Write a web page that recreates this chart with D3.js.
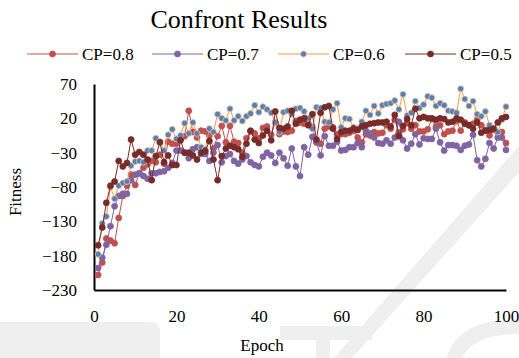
<!DOCTYPE html>
<html>
<head>
<meta charset="utf-8">
<script src="https://cdn.jsdelivr.net/npm/d3@7"></script>
<style>
  body { margin: 0; background: #fff; }
  svg { display: block; }
  text { font-family: "Liberation Serif", "Times New Roman", serif; fill: #000; }
</style>
</head>
<body>
<svg id="chart" width="519" height="358"></svg>
<script>
// values, epoch 1..100
const epochs = d3.range(1, 101)

const cp08 = [-208, -190, -155, -158, -162, -125, -93, -78, -62, -77,
  -60, -52, -47, -42, -44, -33, -46, -14, -17, -17,
  -10, -6, 31, 0, -8, 2, 1, -5, -24, -6,
  9, -15, 9, -14, -16, -30, -9, 1, -2, -9,
  6, 8, -4, 14, -3, 1, 0, 2, 16, 14,
  12, 13, 7, -15, -17, 5, 8, 7, -3, -3,
  -3, -1, 2, -8, -15, -3, -5, 0, -2, -1,
  10, 5, 18, -1, 4, 13, 5, 10, 1, 1,
  4, 19, 8, 10, -3, 1, 2, 16, 2, 14,
  10, 12, 18, 10, 3, -5, 3, -1, 0, -16]

const cp07 = [-198, -183, -164, -137, -108, -93, -90, -90, -70, -62,
  -60, -64, -68, -60, -60, -58, -57, -52, -45, -27,
  -27, -30, -38, -25, -22, -32, -32, -42, -30, -19,
  -44, -35, -32, -42, -46, -40, -35, -44, -48, -50,
  -36, -30, -34, -45, -30, -38, -49, -24, -50, -64,
  -22, -33, -7, -15, -34, -6, -20, -20, -14, -27,
  -26, -22, -22, -16, -22, 2, -2, -8, -16, -17,
  -12, -17, -8, 15, -12, -24, -17, -3, -18, -9,
  -10, -10, 5, -15, -27, -19, -19, -20, -26, -20,
  -18, -4, -41, -50, -39, -16, -24, -8, -8, -26]

const cp06 = [-178, -133, -123, -80, -97, -78, -74, -72, -49, -43,
  -42, -44, -27, -27, -9, -14, -27, -4, 4, -10,
  -5, 13, -2, 14, -2, -22, -25, 5, 0, 26,
  20, 17, 34, 17, 23, 16, 23, 27, 39, 29,
  37, 33, 28, 14, 0, 29, 31, 26, 34, 35,
  30, 20, 5, 36, 35, 15, 14, 33, 42, 7,
  20, 19, 7, 5, 15, 31, 25, 38, 27, 39,
  41, 42, 46, 33, 55, 24, 28, 45, 35, 40,
  52, 50, 38, 42, 39, 31, 30, 28, 63, 48,
  38, 45, 26, 23, 30, 10, 5, 0, 18, 37]

const cp05 = [-165, -139, -103, -78, -72, -42, -50, -45, -11, -33,
  -29, -33, -40, -70, -35, -15, -44, -34, -48, -48,
  -12, -30, -30, -34, -40, -30, -28, -13, -40, -70,
  -35, -24, -20, -22, -25, -36, -17, 2, -11, -16,
  -5, 2, -12, 30, 6, 5, 8, 31, 12, 18,
  20, 10, 26, -11, 28, 36, 38, 5, -10, 0,
  2, 2, 5, 3, 8, 10, 12, 13, 14, 14,
  15, 8, 25, -6, 9, 19, 10, 34, 20, 22,
  20, 20, 18, 20, 19, 14, 15, 20, 18, 12,
  10, 5, 14, -1, 2, 3, 5, 14, 20, 22]

const seriesNames = ['CP=0.8', 'CP=0.7', 'CP=0.6', 'CP=0.5']
const xTicks = [0, 20, 40, 60, 80, 100]
const yTicks = [70, 20, -30, -80, -130, -180, -230]

const series = [
  { name: seriesNames[0], values: cp08, line: '#c0504d', fill: '#c0504d', ring: '#c0504d' },
  { name: seriesNames[1], values: cp07, line: '#8064a2', fill: '#8064a2', ring: '#8064a2' },
  { name: seriesNames[2], values: cp06, line: '#f79646', fill: '#4f81bd', ring: '#f9bf8f' },
  { name: seriesNames[3], values: cp05, line: '#772c2a', fill: '#772c2a', ring: '#772c2a' }
]

const svg = d3.select('#chart')

// faint watermark shapes from the source page
const wm = svg.append('g').attr('fill', '#efefef').attr('stroke', 'none')
wm.append('path').attr('d', 'M519,146 L530,160 L352,358 L334,358 Z')
wm.append('path').attr('d', 'M0,322 L150,322 Q160,322 160,332 L160,358 L0,358 Z')
wm.append('path').attr('d', 'M280,326 L372,326 L372,340 L330,340 L330,358 L316,358 L316,340 L280,340 Z')
wm.append('path').attr('d', 'M519,320 Q470,318 452,345 L446,358 L462,358 Q474,334 519,334 Z')

const x = d3.scaleLinear().domain([0, 100]).range([94, 506])
const y = d3.scaleLinear().domain([-230, 70]).range([290, 84])

// axes
const xAxis = svg.append('g')
  .attr('transform', 'translate(0,290)')
  .call(d3.axisBottom(x).tickValues(xTicks).tickSize(0).tickPadding(20))
xAxis.select('.domain').attr('stroke', '#000').attr('stroke-width', 2)
xAxis.selectAll('text').attr('font-size', 17).attr('font-family', null)

const yAxis = svg.append('g')
  .attr('transform', 'translate(94,0)')
  .call(d3.axisLeft(y).tickValues(yTicks).tickSize(0).tickPadding(17))
yAxis.select('.domain').attr('stroke', '#000').attr('stroke-width', 2)
yAxis.selectAll('text').attr('font-size', 17).attr('font-family', null)

// series
const line = d3.line()
  .x((d, i) => x(epochs[i]))
  .y(d => y(d))

series.forEach(s => {
  const g = svg.append('g')
  g.append('path')
    .datum(s.values)
    .attr('d', line)
    .attr('fill', 'none')
    .attr('stroke', s.line)
    .attr('stroke-width', 1)
  g.selectAll('circle')
    .data(s.values)
    .enter().append('circle')
    .attr('cx', (d, i) => x(epochs[i]))
    .attr('cy', d => y(d))
    .attr('r', 3)
    .attr('fill', s.fill)
    .attr('stroke', s.ring)
    .attr('stroke-width', 0.8)
})

// title and axis titles
svg.append('text')
  .attr('x', 239).attr('y', 28)
  .attr('text-anchor', 'middle')
  .attr('font-size', 26)
  .text('Confront Results')

svg.append('text')
  .attr('x', 262).attr('y', 351)
  .attr('text-anchor', 'middle')
  .attr('font-size', 17)
  .text('Epoch')

svg.append('text')
  .attr('transform', 'translate(21,192) rotate(-90)')
  .attr('text-anchor', 'middle')
  .attr('font-size', 17)
  .text('Fitness')

// legend
const legendX = [27, 152, 278, 405]
const legend = svg.append('g')
series.forEach((s, i) => {
  const lg = legend.append('g').attr('transform', 'translate(' + legendX[i] + ',54)')
  lg.append('line')
    .attr('x1', 0).attr('x2', 51)
    .attr('stroke', s.line).attr('stroke-width', 1)
  lg.append('circle')
    .attr('cx', 25.5).attr('r', 3)
    .attr('fill', s.fill).attr('stroke', s.ring).attr('stroke-width', 0.8)
  lg.append('text')
    .attr('x', 55).attr('y', 6)
    .attr('font-size', 17)
    .text(s.name)
})
</script>
</body>
</html>
